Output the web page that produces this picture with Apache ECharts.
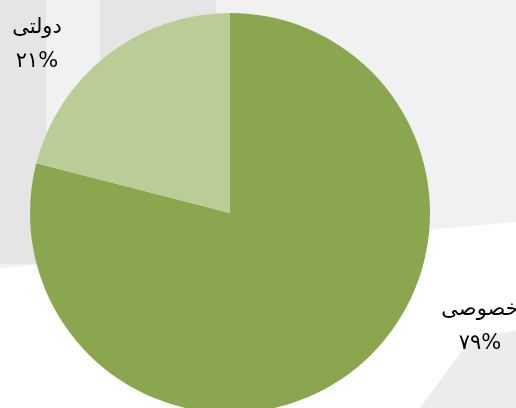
<!DOCTYPE html>
<html>
<head>
<meta charset="utf-8">
<script src="https://cdn.jsdelivr.net/npm/echarts@6/dist/echarts.min.js"></script>
<style>
  html, body { margin: 0; padding: 0; background: #fff; }
  #chart { width: 516px; height: 408px; }
</style>
</head>
<body>
<div id="chart"></div>
<script>
// سهم بخش خصوصی و دولتی
var sectorNames = ['خصوصی', 'دولتی'];
var sectorValues = [79, 21];
var sectorPercents = ['۷۹%', '۲۱%'];
var sectorColors = ['#8aa64f', '#bacd96'];

var myChart = echarts.init(document.getElementById('chart'));

var pieData = [];
for (var i = 0; i < sectorNames.length; i++) {
  pieData.push({
    name: sectorNames[i],
    value: sectorValues[i],
    pct: sectorPercents[i],
    itemStyle: { color: sectorColors[i] }
  });
}

// جای برچسب‌ها
var labelPos = [
  { x: 480, y: 327 },
  { x: 37, y: 45 }
];

var option = {
  backgroundColor: '#ffffff',
  animation: false,
  graphic: [
    // سایه‌ی پس‌زمینه
    { type: 'polygon', silent: true, z: -10,
      shape: { points: [[0, 0], [516, 0], [516, 222], [0, 268]] },
      style: { fill: '#f1f1f1' } },
    { type: 'rect', silent: true, z: -9,
      shape: { x: 0, y: 0, width: 46, height: 264 },
      style: { fill: '#e5e5e5' } },
    { type: 'rect', silent: true, z: -9,
      shape: { x: 100, y: 0, width: 116, height: 254 },
      style: { fill: '#e5e5e5' } },
    { type: 'polygon', silent: true, z: -9,
      shape: { points: [[420, 408], [470, 340], [516, 330], [516, 408]] },
      style: { fill: '#ececec' } }
  ],
  series: [
    {
      type: 'pie',
      center: [230, 213],
      radius: 200,
      startAngle: 90,
      clockwise: true,
      itemStyle: { borderWidth: 0 },
      emphasis: { disabled: true },
      labelLine: { show: false },
      label: {
        show: true,
        position: 'outside',
        formatter: function (p) { return p.name + '\n' + p.data.pct; },
        fontFamily: '"DejaVu Sans", sans-serif',
        fontSize: 21,
        lineHeight: 34,
        color: '#000',
        align: 'center'
      },
      labelLayout: function (params) {
        var pos = labelPos[params.dataIndex];
        return { x: pos.x, y: pos.y, align: 'center', verticalAlign: 'middle' };
      },
      data: pieData
    }
  ]
};

myChart.setOption(option);
</script>
</body>
</html>
